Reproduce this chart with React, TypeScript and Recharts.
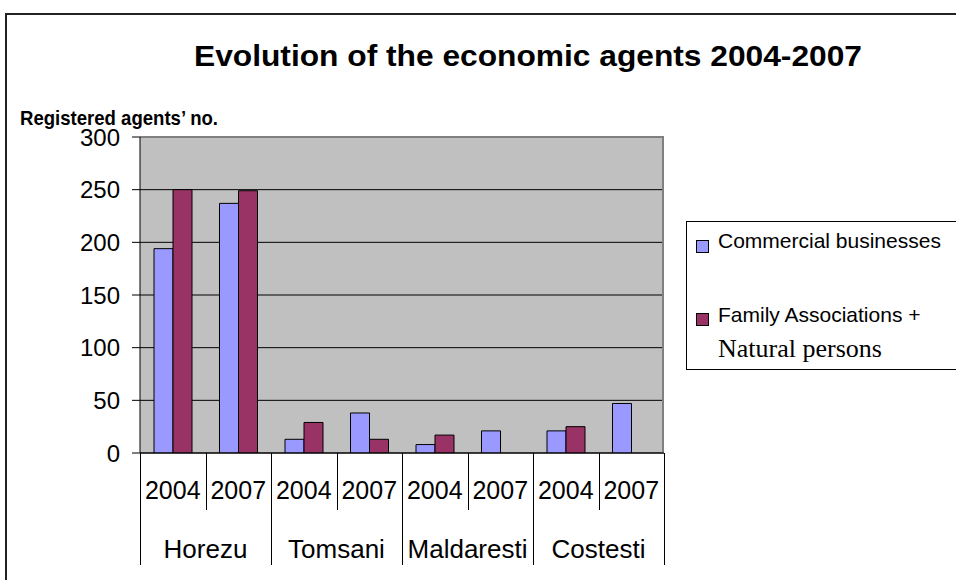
import React from 'react';
import { BarChart, Bar, XAxis, YAxis, CartesianGrid, ReferenceLine, Legend } from 'recharts';

const towns = ['Horezu', 'Tomsani', 'Maldaresti', 'Costesti'];
const years = ['2004', '2007'];
const commercialBusinesses = [194, 237, 13, 38, 8, 21, 21, 47];
const familyAssociations: (number | null)[] = [250, 249, 29, 13, 17, null, 25, null];
const yTicks = [0, 50, 100, 150, 200, 250, 300];
const seriesNames = ['Commercial businesses', 'Family Associations +'];
const secondNameLine = 'Natural persons';
const seriesColors = ['#9999FF', '#993366'];
const title = 'Evolution of the economic agents 2004-2007';
const yAxisTitle = 'Registered agents\u2019 no.';

const FONT = '"Liberation Sans", Arial, sans-serif';
const SERIF = '"Liberation Serif", "Times New Roman", serif';

const data = towns.flatMap((town, ti) =>
  years.map((year, yi) => {
    const i = ti * years.length + yi;
    return {
      key: `${town} ${year}`,
      town,
      year,
      first: yi === 0,
      commercial: commercialBusinesses[i],
      family: familyAssociations[i],
    };
  })
);

const XTick = (props: any) => {
  const { x, y, payload, index } = props;
  const half = payload && payload.offset ? payload.offset : 32.75;
  const d = data[index] ?? data.find((e) => e.key === payload.value);
  if (!d) return null;
  const left = Math.round(x - half) + 0.5;
  const right = Math.round(x + half) + 0.5;
  const isLast = index === data.length - 1;
  return (
    <g>
      <line x1={left} y1={y} x2={left} y2={y + (d.first ? 112 : 57)} stroke="#000" strokeWidth={1} />
      {isLast && <line x1={right} y1={y} x2={right} y2={y + 112} stroke="#000" strokeWidth={1} />}
      <text x={x} y={y + 46} textAnchor="middle" fontSize={25} fontFamily={FONT} fill="#000">
        {d.year}
      </text>
      {d.first && (
        <text x={x + half} y={y + 105} textAnchor="middle" fontSize={26} fontFamily={FONT} fill="#000">
          {d.town}
        </text>
      )}
    </g>
  );
};

const LegendBox = () => (
  <div style={{ position: 'relative', width: 290, height: 149, boxSizing: 'border-box', border: '1px solid #000', background: '#fff' }}>
    <svg width={290} height={149} style={{ position: 'absolute', left: -1, top: -1 }}>
      <rect x={10.5} y={19.5} width={12} height={12} fill={seriesColors[0]} stroke="#000" />
      <text x={32} y={27} fontSize={21} fontFamily={FONT} fill="#000">{seriesNames[0]}</text>
      <rect x={10.5} y={92.5} width={12} height={12} fill={seriesColors[1]} stroke="#000" />
      <text x={32} y={101} fontSize={21} fontFamily={FONT} fill="#000">{seriesNames[1]}</text>
      <text x={32} y={136} fontSize={26} fontFamily={SERIF} fill="#000">{secondNameLine}</text>
    </svg>
  </div>
);

export default function App() {
  return (
    <div style={{ position: 'absolute', left: 0, top: 0, width: 956, height: 580, overflow: 'hidden', background: '#fff' }}>
      <BarChart
        width={956}
        height={580}
        data={data}
        margin={{ top: 137, right: 292, bottom: 0, left: 80 }}
        barSize={19}
        barGap={0}
      >
        <CartesianGrid fill="#C0C0C0" fillOpacity={1} vertical={false} stroke="#000" strokeWidth={1} />
        <CartesianGrid
          horizontal={false}
          stroke="#808080"
          strokeWidth={2}
          verticalCoordinatesGenerator={(p: any) => [p.offset.left + p.offset.width - 1]}
        />
        <ReferenceLine y={300} stroke="#808080" strokeWidth={2} />
        <XAxis
          dataKey="key"
          interval={0}
          height={127}
          tickSize={0}
          tickMargin={0}
          tickLine={false}
          axisLine={{ stroke: '#000' }}
          tick={<XTick />}
        />
        <YAxis
          domain={[0, 300]}
          ticks={yTicks}
          interval={0}
          width={60}
          tickSize={8}
          tickMargin={12}
          tickLine={{ stroke: '#000' }}
          axisLine={{ stroke: '#000' }}
          tick={{ fill: '#000', fontSize: 24, fontFamily: FONT }}
          allowDataOverflow
        />
        <Legend
          layout="horizontal"
          verticalAlign="middle"
          align="center"
          wrapperStyle={{ left: 686, top: 221, width: 290, height: 149 }}
          content={() => <LegendBox />}
        />
        <Bar dataKey="commercial" name={seriesNames[0]} fill={seriesColors[0]} stroke="#000" strokeWidth={1} isAnimationActive={false} />
        <Bar dataKey="family" name={seriesNames[1]} fill={seriesColors[1]} stroke="#000" strokeWidth={1} isAnimationActive={false} />
      </BarChart>
      <svg width={956} height={580} style={{ position: 'absolute', left: 0, top: 0, pointerEvents: 'none' }}>
        <line x1={6} y1={14} x2={956} y2={14} stroke="#222" strokeWidth={2} />
        <line x1={6} y1={13} x2={6} y2={580} stroke="#222" strokeWidth={2} />
        <text x={194} y={66} fontSize={30} fontWeight="bold" fontFamily={FONT} fill="#000" textLength={668} lengthAdjust="spacingAndGlyphs">
          {title}
        </text>
        <text x={20} y={125} fontSize={21} fontWeight="bold" fontFamily={FONT} fill="#000" textLength={198} lengthAdjust="spacingAndGlyphs">
          {yAxisTitle}
        </text>
      </svg>
    </div>
  );
}
